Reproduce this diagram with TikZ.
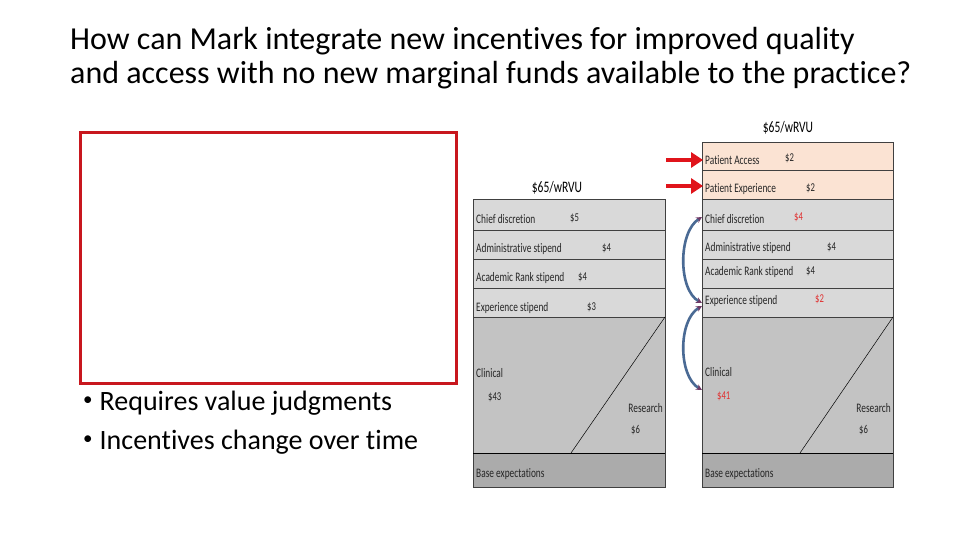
\documentclass[tikz,border=0pt]{standalone}
\usepackage{fontspec}
\setmainfont{Carlito}[Ligatures={NoCommon}]
\newfontfamily\chartfont[FakeStretch=0.72,Ligatures={NoCommon}]{Carlito}
\usetikzlibrary{arrows.meta}
\definecolor{rowgray}{HTML}{D9D9D9}
\definecolor{midgray}{HTML}{C3C3C3}
\definecolor{basegray}{HTML}{ABABAB}
\definecolor{peach}{HTML}{FBE3D3}
\definecolor{boxred}{HTML}{C8171E}
\definecolor{arrred}{HTML}{E0141B}
\definecolor{curveblue}{HTML}{4A6A94}
\definecolor{tipcol}{HTML}{6E3A66}
\definecolor{valred}{HTML}{E03030}
\tikzset{
  lbl/.style={font=\chartfont\fontsize{13}{13}\selectfont, anchor=west, inner sep=0pt, text=black!85},
  val/.style={font=\chartfont\fontsize{12}{12}\selectfont, anchor=west, inner sep=0pt, text=black!85},
  rval/.style={val, text=valred},
  rowbox/.style={fill=rowgray, draw=black!75, line width=0.6pt},
  pbox/.style={fill=peach, draw=black!75, line width=0.6pt},
  redarr/.style={draw=arrred, line width=4.5pt, -{Triangle[length=12pt,width=15pt]}},
  bluearr/.style={draw=curveblue, line width=2.6pt, {Stealth[length=6pt,width=6pt,color=tipcol]}-{Stealth[length=6pt,width=6pt,color=tipcol]}},
  bul/.style={anchor=base west, inner sep=0pt, font=\fontsize{28}{28}\selectfont}
}
\newcommand{\smbul}{\raisebox{0.16em}{\fontsize{19}{19}\selectfont\textbullet}}
\begin{document}
\begin{tikzpicture}[x=1pt,y=-1pt]
\useasboundingbox (0,0) rectangle (960,540);
\fill[white] (0,0) rectangle (960,540);
% title
\node[anchor=base west, inner sep=0pt, font=\fontsize{32}{38}\selectfont] (t1) at (70,50) {How can Mark integrate new incentives for improved quality};
\node[anchor=base west, inner sep=0pt, font=\fontsize{32}{38}\selectfont] (t2) at (70,84) {and access with no new marginal funds available to the practice?};
% red box
\draw[boxred, line width=3pt] (80,133) rectangle (456,383);
\node[bul] (b1) at (83,410) {\smbul\hspace{7pt}Requires value judgments};
\node[bul] (b2) at (83,449) {\smbul\hspace{7pt}Incentives change over time};

% ---- left chart ----
\node[font=\chartfont\fontsize{16}{16}\selectfont, inner sep=0pt] (lt) at (557,188) {\$65/wRVU};
\fill[midgray] (473,317) rectangle (665,453);
\fill[basegray] (473,453) rectangle (665,487);
\draw[rowbox] (473,199) rectangle (665,230);
\draw[rowbox] (473,230) rectangle (665,259);
\draw[rowbox] (473,259) rectangle (665,288);
\draw[rowbox] (473,288) rectangle (665,317);
\draw[black!75, line width=0.6pt] (473,317) rectangle (665,487);
\draw[black, line width=0.8pt] (473,453) -- (665,453);
\draw[black, line width=0.5pt] (665,317) -- (571,453);
\node[lbl] (l1) at (476,219) {Chief discretion};
\node[val] at (570,218) {\$5};
\node[lbl] (l2) at (476,249) {Administrative stipend};
\node[val] at (602,248) {\$4};
\node[lbl] (l3) at (476,278) {Academic Rank stipend};
\node[val] at (578,277) {\$4};
\node[lbl] (l4) at (476,308) {Experience stipend};
\node[val] at (587,307) {\$3};
\node[lbl] (l5) at (476,373) {Clinical};
\node[val] at (488,397) {\$43};
\node[lbl, anchor=east] (l6) at (663,408) {Research};
\node[val] at (631,430) {\$6};
\node[lbl] (l7) at (476,474) {Base expectations};

% ---- right chart ----
\node[font=\chartfont\fontsize{16}{16}\selectfont, inner sep=0pt] (rt) at (788,128) {\$65/wRVU};
\fill[midgray] (702,317) rectangle (893,453);
\fill[basegray] (702,453) rectangle (893,487);
\draw[pbox] (702,142) rectangle (893,170);
\draw[pbox] (702,170) rectangle (893,199);
\draw[rowbox] (702,199) rectangle (893,230);
\draw[rowbox] (702,230) rectangle (893,259);
\draw[rowbox] (702,259) rectangle (893,288);
\draw[rowbox] (702,288) rectangle (893,317);
\draw[black!75, line width=0.6pt] (702,317) rectangle (893,487);
\draw[black, line width=0.8pt] (702,453) -- (893,453);
\draw[black, line width=0.5pt] (893,317) -- (800,453);
\coordinate (pa) at (703,160);
\coordinate (pe) at (703,186);
\node[lbl] (r0) at (705,160) {Patient Access};
\node[val] at (785,158) {\$2};
\node[lbl] (r00) at (705,189) {Patient Experience};
\node[val] at (806,188) {\$2};
\node[lbl] (r1) at (705,219) {Chief discretion};
\node[rval] at (794,217) {\$4};
\node[lbl] (r2) at (705,248) {Administrative stipend};
\node[val] at (827,247) {\$4};
\node[lbl] (r3) at (705,272) {Academic Rank stipend};
\node[val] at (806,271) {\$4};
\node[lbl] (r4) at (705,301) {Experience stipend};
\node[rval] at (815,299) {\$2};
\node[lbl] (r5) at (705,372) {Clinical};
\node[rval] at (717,396) {\$41};
\node[lbl, anchor=east] (r6) at (891,408) {Research};
\node[val] at (859,430) {\$6};
\node[lbl] (r7) at (705,474) {Base expectations};

% red arrows
\coordinate (a1) at (666,160);
\coordinate (a2) at (666,186);
\draw[redarr] (a1) -- (pa);
\draw[redarr] (a2) -- (pe);
% blue curved arrows
\coordinate (c1) at (702,217);
\coordinate (c2) at (702,303);
\coordinate (c3) at (702,306);
\coordinate (c4) at (702,390);
\draw[bluearr] (c1) .. controls (678,232) and (678,290) .. (c2);
\draw[bluearr] (c3) .. controls (678,320) and (678,376) .. (c4);
\end{tikzpicture}
\end{document}
